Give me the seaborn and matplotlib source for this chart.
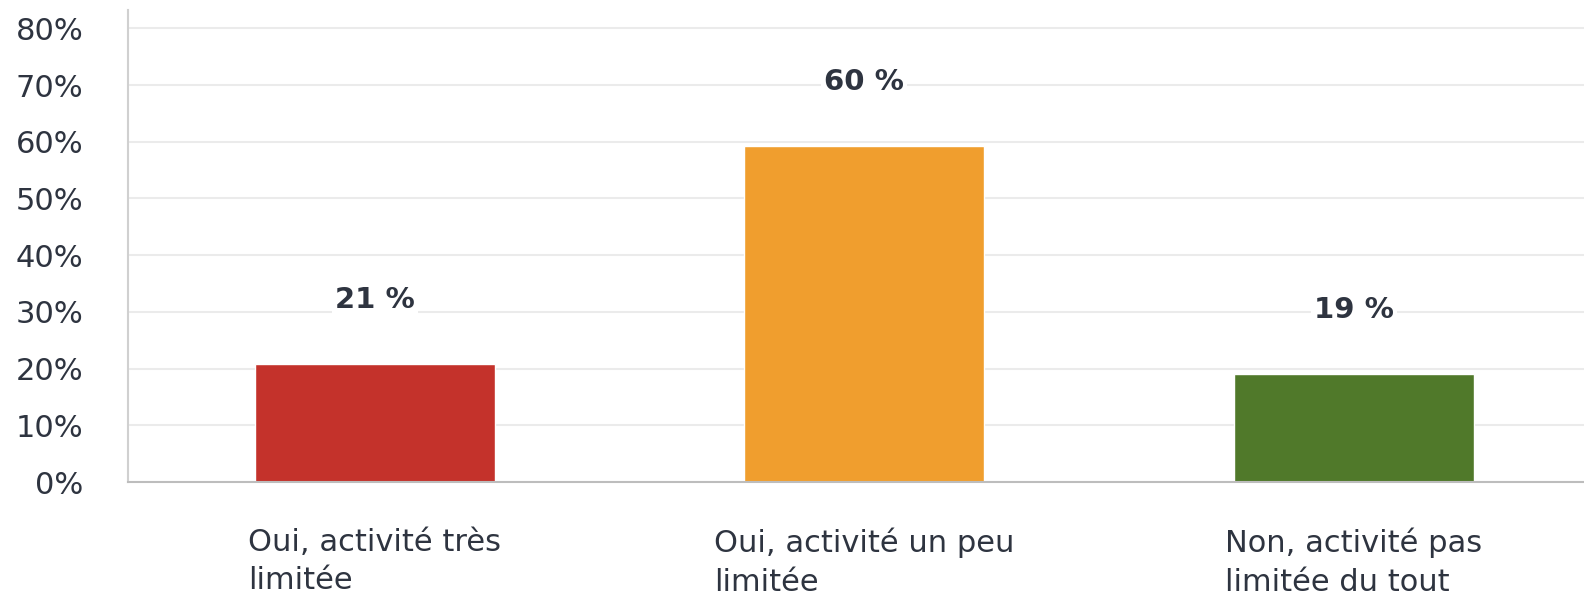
import matplotlib
matplotlib.use("Agg")
import matplotlib.pyplot as plt
import seaborn as sns
import pandas as pd

# data
categories = ["Oui, activité très\nlimitée", "Oui, activité un peu\nlimitée", "Non, activité pas\nlimitée du tout"]
values = [20.8, 59.3, 19.1]
value_labels = ["21 %", "60 %", "19 %"]
colors = ["#C4322B", "#F09E2E", "#50792A"]
yticks = [0, 10, 20, 30, 40, 50, 60, 70, 80]

text_color = "#2E3440"

sns.set_style("white")
plt.rcParams["font.family"] = ["DejaVu Sans"]

df = pd.DataFrame({"cat": categories, "val": values})

fig = plt.figure(figsize=(15.84, 5.99), dpi=100)
ax = fig.add_axes([0.0808, 0.1953, 0.9192, 0.7877])

sns.barplot(data=df, x="cat", y="val", hue="cat", palette=colors,
            width=0.49, legend=False, ax=ax, saturation=1)

ax.set_xlim(-0.504, 2.47)
ax.set_ylim(0, 83.2)
ax.set_yticks(yticks)
ax.set_yticklabels([f"{t}%" for t in yticks])
ax.yaxis.grid(True, color="#EBEBEB", linewidth=1.5)
ax.set_axisbelow(True)
ax.set_xlabel("")
ax.set_ylabel("")

for s in ["top", "right"]:
    ax.spines[s].set_visible(False)
ax.spines["left"].set_color("#D0D0D0")
ax.spines["bottom"].set_color("#BDBDBD")
ax.spines["left"].set_linewidth(1.5)
ax.spines["bottom"].set_linewidth(1.5)

ax.tick_params(axis="y", length=0, pad=32, labelsize=22, labelcolor=text_color)
ax.tick_params(axis="x", length=0, pad=33, labelsize=22, labelcolor=text_color)
for lab in ax.get_xticklabels():
    lab.set_multialignment("left")
    lab.set_linespacing(1.4)

# value labels above bars
for i, (v, lbl) in enumerate(zip(values, value_labels)):
    ax.annotate(lbl, (i, v), xytext=(0, 46), textcoords="offset points",
                ha="center", va="center", fontsize=21, fontweight="bold",
                color=text_color,
                bbox=dict(facecolor="white", edgecolor="none", pad=2))

fig.savefig("out.png", dpi=100)
